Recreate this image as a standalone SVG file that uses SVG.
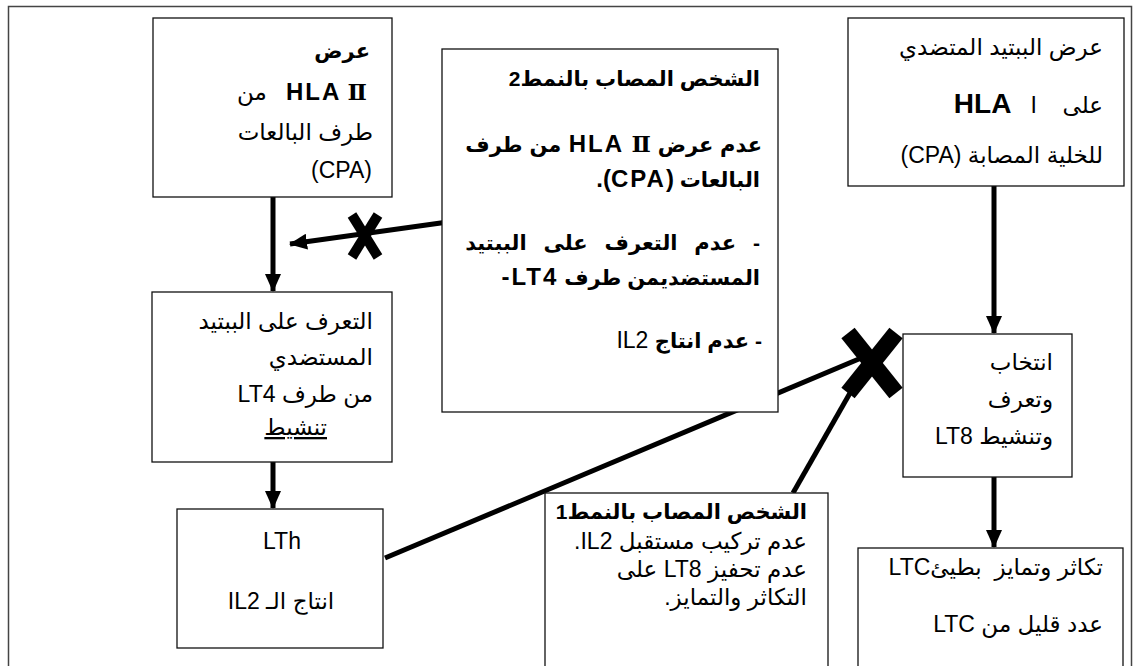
<svg xmlns="http://www.w3.org/2000/svg" width="1136" height="666" viewBox="0 0 1136 666">
  <style>
    .frame { fill: none; stroke: #444; stroke-width: 1.5; }
    .box { fill: #fff; stroke: #111; stroke-width: 1.3; }
    .t { font-family: "Liberation Sans", "DejaVu Sans", sans-serif; font-size: 23px; fill: #000; }
    .b { font-weight: bold; font-size: 21px; }
    .lb { font-weight: bold; font-size: 24px; letter-spacing: 2px; }
    .num { font-family: "DejaVu Serif", "Liberation Serif", serif; font-weight: bold; }
    .rtl { direction: rtl; unicode-bidi: embed; text-anchor: start; }
    .mid { text-anchor: middle; }
    .link { stroke: #000; stroke-width: 5; fill: none; }
    .cross { stroke: #000; fill: none; }
  </style>
  <defs>
    <marker id="head" markerUnits="userSpaceOnUse" markerWidth="18" markerHeight="16" refX="17" refY="8" orient="auto">
      <path d="M0,0 L18,8 L0,16 z" fill="#000"/>
    </marker>
  </defs>

  <!-- page frame -->
  <rect class="frame" x="8.5" y="6.5" width="1123" height="700"/>

  <!-- connectors -->
  <g id="connectors">
    <line class="link" x1="273" y1="197" x2="273" y2="291" marker-end="url(#head)"/>
    <line class="link" x1="273" y1="462" x2="273" y2="508" marker-end="url(#head)"/>
    <line class="link" x1="455" y1="221" x2="290" y2="244" marker-end="url(#head)"/>
    <line class="link" x1="994" y1="186" x2="994" y2="333" marker-end="url(#head)"/>
    <line class="link" x1="994" y1="477" x2="994" y2="547" marker-end="url(#head)"/>
    <line class="link" x1="385" y1="558" x2="866" y2="356"/>
    <line class="link" x1="793" y1="493" x2="862" y2="372"/>
    <!-- blocked pathways -->
    <g class="cross" stroke-width="10">
      <line x1="352" y1="215" x2="378" y2="257"/>
      <line x1="378" y1="215" x2="352" y2="257"/>
    </g>
    <g class="cross" stroke-width="17">
      <line x1="848" y1="333" x2="896" y2="393"/>
      <line x1="896" y1="333" x2="848" y2="393"/>
    </g>
  </g>

  <!-- HLA II presentation by phagocytes -->
  <g id="node-hla2">
    <rect class="box" x="153" y="18" width="239" height="179"/>
    <text class="t rtl" x="370" y="58"><tspan class="b" font-size="24">عرض</tspan></text>
    <text class="t rtl" x="367" y="100"><tspan class="lb" font-size="23">HLA</tspan> <tspan class="num">Ⅱ</tspan>&#160;&#160;&#160;من</text>
    <text class="t rtl" x="373" y="140">طرف البالعات</text>
    <text class="t rtl" x="372" y="178" font-size="25">(CPA)</text>
  </g>

  <!-- type 2 patient -->
  <g id="node-type2">
    <rect class="box" x="442" y="49" width="336" height="363"/>
    <text class="t rtl" x="760" y="86"><tspan class="b">الشخص المصاب بالنمط2</tspan></text>
    <text class="t rtl" x="762" y="152" word-spacing="1"><tspan class="b">عدم عرض </tspan><tspan class="lb">HLA</tspan> <tspan class="num">Ⅱ</tspan>  <tspan class="b">من طرف</tspan></text>
    <text class="t rtl" x="760" y="187"><tspan class="b">البالعات </tspan><tspan class="lb" letter-spacing="1">(CPA).</tspan></text>
    <text class="t rtl" x="760" y="250" word-spacing="11"><tspan class="b">- عدم التعرف على الببتيد</tspan></text>
    <text class="t rtl" x="760" y="285"><tspan class="b">المستضديمن طرف </tspan><tspan class="lb" font-size="23" letter-spacing="1">LT4-</tspan></text>
    <text class="t rtl" x="762" y="348"><tspan class="b">- عدم انتاج</tspan> IL2</text>
  </g>

  <!-- peptide presentation on HLA I -->
  <g id="node-hla1">
    <rect class="box" x="848" y="18" width="276" height="168"/>
    <text class="t rtl" x="1103" y="55" font-size="24">عرض الببتيد المتضدي</text>
    <text class="t rtl" x="1103" y="113" font-size="24">على&#160;&#160;&#160;&#160;<tspan font-weight="bold" font-size="28">HLA</tspan>&#160;&#160;&#160;I</text>
    <text class="t rtl" x="1103" y="163" font-size="24">للخلية المصابة (CPA)</text>
  </g>

  <!-- LT4 recognition -->
  <g id="node-lt4">
    <rect class="box" x="152" y="292" width="240" height="170"/>
    <text class="t rtl" x="373" y="329">التعرف على الببتيد</text>
    <text class="t rtl" x="373" y="365">المستضدي</text>
    <text class="t rtl" x="373" y="402">من طرف LT4</text>
    <text class="t rtl" x="327" y="435" text-decoration="underline">تنشيط</text>
  </g>

  <!-- LTh -->
  <g id="node-lth">
    <rect class="box" x="177" y="509" width="206" height="139"/>
    <text class="t mid" x="282" y="549">LTh</text>
    <text class="t rtl" x="281" y="609" style="text-anchor: middle">انتاج الـ IL2</text>
  </g>

  <!-- type 1 patient -->
  <g id="node-type1">
    <rect class="box" x="545" y="493" width="283" height="210"/>
    <text class="t rtl" x="807" y="519"><tspan class="b">الشخص المصاب بالنمط1</tspan></text>
    <text class="t rtl" x="807" y="549" font-size="24">عدم تركيب مستقبل IL2.</text>
    <text class="t rtl" x="807" y="577">عدم تحفيز LT8 على</text>
    <text class="t rtl" x="807" y="605">التكاثر والتمايز.</text>
  </g>

  <!-- LT8 selection -->
  <g id="node-lt8">
    <rect class="box" x="903" y="334" width="169" height="143"/>
    <text class="t rtl" x="1053" y="370">انتخاب</text>
    <text class="t rtl" x="1053" y="407">وتعرف</text>
    <text class="t rtl" x="1053" y="444">وتنشيط LT8</text>
  </g>

  <!-- LTC -->
  <g id="node-ltc">
    <rect class="box" x="858" y="548" width="265" height="160"/>
    <text class="t rtl" x="1103" y="575">تكاثر وتمايز&#160; بطيئLTC</text>
    <text class="t rtl" x="1103" y="632">عدد قليل من LTC</text>
  </g>
</svg>
